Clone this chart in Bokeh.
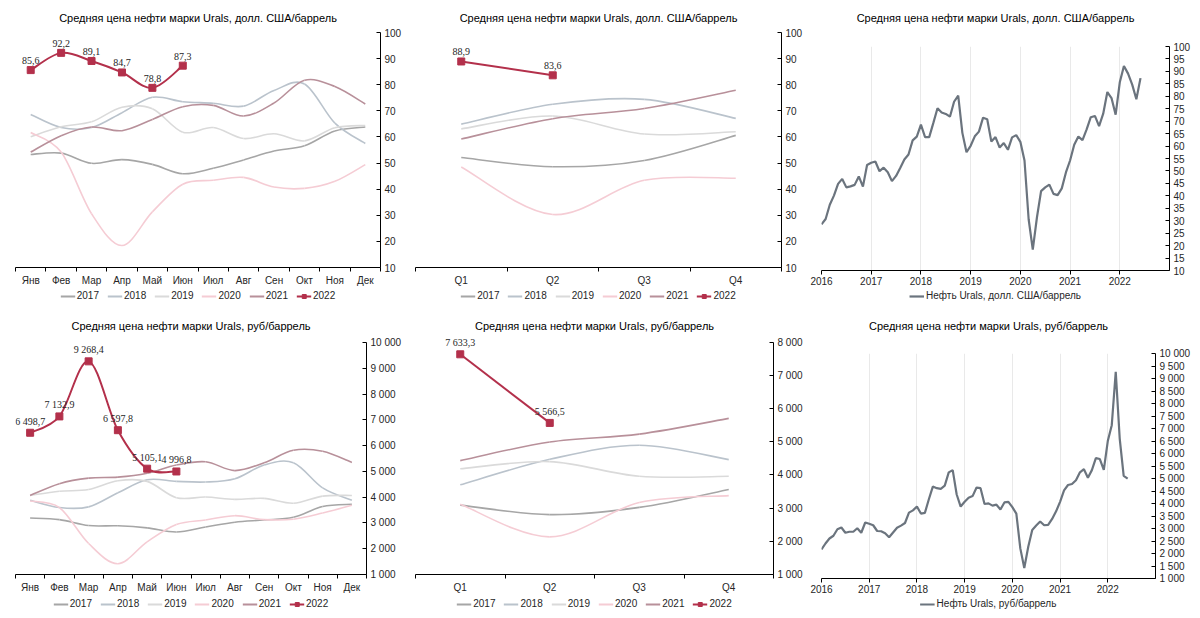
from bokeh.plotting import figure
from bokeh.layouts import column, row
from bokeh.models import (Range1d, FixedTicker, Legend, LegendItem, ColumnDataSource,
                          LabelSet, Label)
from bokeh.embed import file_html
from bokeh.resources import INLINE

FONT = "Liberation Sans"

MONTHS = ["Янв", "Фев", "Мар", "Апр", "Май", "Июн", "Июл", "Авг", "Сен", "Окт", "Ноя", "Дек"]
QUARTERS = ["Q1", "Q2", "Q3", "Q4"]
YEARS = ["2017", "2018", "2019", "2020", "2021", "2022"]

# USD/barrel, monthly
usd_2016 = [28.5, 30.7, 36.4, 40.1, 44.8, 46.8, 43.4, 43.8, 44.4, 47.8, 43.7, 52.4]
usd_2017 = [53.3, 53.8, 49.9, 51.3, 49.5, 45.9, 48.0, 51.2, 54.6, 56.6, 62.3, 63.8]
usd_2018 = [68.6, 63.6, 63.6, 69.3, 75.2, 73.5, 72.9, 71.8, 77.8, 80.3, 65.3, 57.5]
usd_2019 = [60.1, 63.9, 65.8, 71.4, 70.8, 61.8, 63.6, 59.4, 61.2, 58.5, 63.5, 64.4]
usd_2020 = [61.7, 54.2, 30.6, 18.4, 31.3, 41.9, 43.4, 44.5, 40.8, 40.3, 43.0, 49.4]
usd_2021 = [54.2, 60.5, 63.8, 62.4, 66.7, 71.6, 72.1, 68.0, 73.0, 81.7, 79.3, 72.6]
usd_2022 = [85.6, 92.2, 89.1, 84.7, 78.8, 87.3]

# USD/barrel, quarterly
usd_q_2017 = [52.1, 48.6, 51.0, 60.6]
usd_q_2018 = [64.9, 72.5, 74.4, 67.1]
usd_q_2019 = [63.1, 68.0, 61.1, 62.0]
usd_q_2020 = [48.5, 30.3, 43.4, 44.2]
usd_q_2021 = [59.2, 67.0, 70.9, 77.9]
usd_q_2022 = [88.9, 83.6]

# RUB/barrel, monthly
rub_2016 = [2160, 2400, 2600, 2710, 2970, 3040, 2830, 2870, 2870, 3010, 2830, 3240]
rub_2017 = [3190, 3130, 2900, 2890, 2810, 2650, 2840, 3030, 3115, 3220, 3635, 3725]
rub_2018 = [3877, 3598, 3624, 4169, 4676, 4613, 4587, 4714, 5246, 5335, 4359, 3877]
rub_2019 = [4067, 4232, 4296, 4638, 4613, 3979, 4004, 3915, 3953, 3763, 4042, 4067]
rub_2020 = [3852, 3598, 2204, 1418, 2268, 2940, 3116, 3282, 3130, 3142, 3383, 3687]
rub_2021 = [4067, 4524, 4739, 4778, 4930, 5246, 5373, 5031, 5335, 5817, 5779, 5348]
rub_2022 = [6498.7, 7132.9, 9268.4, 6597.8, 5105.1, 4996.8]

# RUB/barrel, quarterly
rub_q_2017 = [3090, 2805, 3021, 3563]
rub_q_2018 = [3701, 4470, 4894, 4460]
rub_q_2019 = [4184, 4401, 3958, 3958]
rub_q_2020 = [3120, 2134, 3169, 3376]
rub_q_2021 = [4431, 4993, 5230, 5703]
rub_q_2022 = [7633.3, 5566.5]

COLORS = {"2017": "#a6a6a6", "2018": "#bac3cc", "2019": "#dadada", "2020": "#f5ccd4",
          "2021": "#b8909a", "2022": "#b3304b"}
TS_COLOR = "#6b747e"
TXT = "#262626"

TITLE_USD = "Средняя цена нефти марки Urals, долл. США/баррель"
TITLE_RUB = "Средняя цена нефти марки Urals, руб/баррель"
LEG_USD = "Нефть Urals, долл. США/баррель"
LEG_RUB = "Нефть Urals, руб/баррель"

NAN = float("nan")


def fmt_num(v, dec=1):
    s = f"{v:,.{dec}f}"
    return s.replace(",", " ").replace(".", ",")


def bez_source(xs, ys):
    n = len(xs)
    d = dict(x0=[], y0=[], x1=[], y1=[], cx0=[], cy0=[], cx1=[], cy1=[])
    for i in range(n - 1):
        a = max(i - 1, 0)
        b = min(i + 2, n - 1)
        d["x0"].append(xs[i]); d["y0"].append(ys[i])
        d["x1"].append(xs[i + 1]); d["y1"].append(ys[i + 1])
        d["cx0"].append(xs[i] + (xs[i + 1] - xs[a]) / 6.0)
        d["cy0"].append(ys[i] + (ys[i + 1] - ys[a]) / 6.0)
        d["cx1"].append(xs[i + 1] - (xs[b] - xs[i]) / 6.0)
        d["cy1"].append(ys[i + 1] - (ys[b] - ys[i]) / 6.0)
    return ColumnDataSource(d)


def blank_fig(width, height):
    p = figure(width=width, height=height, x_range=Range1d(0, 1), y_range=Range1d(0, 1),
               x_axis_type=None, y_axis_type=None, toolbar_location=None,
               output_backend="svg", min_border=0)
    p.outline_line_color = None
    p.xgrid.grid_line_color = None
    p.ygrid.grid_line_color = None
    return p


def title_fig(width, height, text, cy):
    p = blank_fig(width, height)
    p.add_layout(Label(x=0.5, y=1 - cy / height, text=text, text_align="center",
                       text_baseline="middle", text_font=FONT, text_font_size="11px",
                       text_color="#000000"))
    return p


def legend_fig(width, height, spec, margin):
    # legend-only renderers: one NaN point, so nothing is drawn on the (blank) frame
    p = blank_fig(width, height)
    items = []
    for label, color, marker in spec:
        rs = [p.line(x=[NAN], y=[NAN], line_color=color, line_width=2.2)]
        if marker:
            rs.append(p.scatter(x=[NAN], y=[NAN], marker="square", size=6, color=color))
        items.append(LegendItem(label=label, renderers=rs))
    p.add_layout(Legend(items=items, orientation="horizontal", location="top_center",
                        label_text_font=FONT, label_text_font_size="10px",
                        label_text_color=TXT, glyph_width=15, glyph_height=10,
                        label_height=10, label_standoff=2, spacing=8, padding=0,
                        margin=margin, border_line_color=None, background_fill_alpha=0))
    return p


def main_fig(width, height, xr, yr, left, top, bottom):
    p = figure(width=width, height=height, x_range=xr, y_range=yr,
               output_backend="svg", toolbar_location=None, y_axis_location="right",
               min_border_left=left, min_border_right=0, min_border_top=top,
               min_border_bottom=bottom)
    p.outline_line_color = None
    p.xgrid.grid_line_color = None
    p.ygrid.grid_line_color = None
    for ax in (p.xaxis[0], p.yaxis[0]):
        ax.axis_line_color = "#000000"
        ax.axis_line_width = 1
        ax.major_label_text_font = FONT
        ax.major_label_text_font_size = "10px"
        ax.major_label_text_color = TXT
        ax.major_tick_line_color = "#000000"
        ax.minor_tick_line_color = None
    p.yaxis[0].major_tick_in = 4
    p.yaxis[0].major_tick_out = 0
    p.yaxis[0].major_label_standoff = 4
    return p


def y_axis(p, ymin, ymax, ystep, thousands):
    ticks = list(range(ymin, ymax + 1, ystep))
    p.yaxis[0].ticker = FixedTicker(ticks=ticks)
    p.yaxis[0].bounds = (ymin, ymax)
    if thousands:
        p.yaxis[0].major_label_overrides = {t: fmt_num(t, 0) for t in ticks}


def seasonal(width, height, labels, series, last, ymin, ymax, ystep, ytop,
             left, top, bottom, thousands, smooth_last):
    n = len(labels)
    p = main_fig(width, height, Range1d(0, n), Range1d(ymin, ytop), left, top, bottom)
    y_axis(p, ymin, ymax, ystep, thousands)
    centers = [i + 0.5 for i in range(n)]
    ax = p.xaxis[0]
    ax.ticker = FixedTicker(ticks=centers, minor_ticks=list(range(n + 1)))
    ax.major_label_overrides = {c: lab for c, lab in zip(centers, labels)}
    ax.major_tick_in = 0
    ax.major_tick_out = 0
    ax.minor_tick_line_color = "#000000"
    ax.minor_tick_in = 0
    ax.minor_tick_out = 4
    ax.major_label_standoff = 3
    for yr, vals in zip(YEARS[:-1], series):
        p.bezier(x0="x0", y0="y0", x1="x1", y1="y1", cx0="cx0", cy0="cy0",
                 cx1="cx1", cy1="cy1", source=bez_source(centers, vals),
                 line_color=COLORS[yr], line_width=1.6)
    lx = centers[:len(last)]
    if smooth_last:
        p.bezier(x0="x0", y0="y0", x1="x1", y1="y1", cx0="cx0", cy0="cy0",
                 cx1="cx1", cy1="cy1", source=bez_source(lx, last),
                 line_color=COLORS["2022"], line_width=2)
    else:
        p.line(lx, last, line_color=COLORS["2022"], line_width=2)
    p.scatter(lx, last, marker="square", size=7, color=COLORS["2022"])
    src = ColumnDataSource(dict(x=lx, y=last, t=[fmt_num(v) for v in last]))
    p.add_layout(LabelSet(x="x", y="y", text="t", source=src, text_font=FONT,
                          text_font_size="10px", text_color=TXT, text_align="center",
                          text_baseline="bottom", y_offset=6))
    return p


def timeseries(width, height, values, ymin, ymax, ystep, left, top, bottom, thousands):
    p = main_fig(width, height, Range1d(2016, 2023), Range1d(ymin, ymax), left, top, bottom)
    y_axis(p, ymin, ymax, ystep, thousands)
    years = list(range(2016, 2023))
    ax = p.xaxis[0]
    ax.ticker = FixedTicker(ticks=years)
    ax.major_tick_in = 0
    ax.major_tick_out = 4
    ax.major_label_standoff = 2
    p.xgrid.grid_line_color = "#e9e9e9"
    p.xgrid.grid_line_width = 1
    xs = [2016 + i / 12.0 for i in range(len(values))]
    p.line(xs, values, line_color=TS_COLOR, line_width=2.2)
    return p


usd_month_series = [usd_2017, usd_2018, usd_2019, usd_2020, usd_2021]
usd_q_series = [usd_q_2017, usd_q_2018, usd_q_2019, usd_q_2020, usd_q_2021]
rub_month_series = [rub_2017, rub_2018, rub_2019, rub_2020, rub_2021]
rub_q_series = [rub_q_2017, rub_q_2018, rub_q_2019, rub_q_2020, rub_q_2021]

usd_all = usd_2016 + usd_2017 + usd_2018 + usd_2019 + usd_2020 + usd_2021 + usd_2022
rub_all = rub_2016 + rub_2017 + rub_2018 + rub_2019 + rub_2020 + rub_2021 + rub_2022

YEAR_SPEC = [(y, COLORS[y], y == "2022") for y in YEARS]

W1, W2, W3 = 404, 401, 388
L1, L2, L3 = 15, 11, 16

# top row: title 25 + main 263 + legend 21 = 309
p1 = seasonal(W1, 263, MONTHS, usd_month_series, usd_2022, 10, 100, 10, 100,
              L1, 7, 18, False, True)
p2 = seasonal(W2, 263, QUARTERS, usd_q_series, usd_q_2022, 10, 100, 10, 100,
              L2, 7, 18, False, False)
p3 = timeseries(W3, 263, usd_all, 10, 100, 5, L3, 21, 18, False)

# bottom row: title 24 + main 262 + legend 19 = 305
p4 = seasonal(W1, 262, MONTHS, rub_month_series, rub_2022, 1000, 10000, 1000, 10000,
              L1, 9, 17, True, True)
p5 = seasonal(W2, 262, QUARTERS, rub_q_series, rub_q_2022, 1000, 8000, 1000, 8200,
              L2, 2, 17, True, False)
p6 = timeseries(W3, 262, rub_all, 1000, 10000, 500, L3, 20, 17, True)

c1 = column(title_fig(W1, 25, TITLE_USD, 17), p1, legend_fig(W1, 21, YEAR_SPEC, 2))
c2 = column(title_fig(W2, 25, TITLE_USD, 17), p2, legend_fig(W2, 21, YEAR_SPEC, 2))
c3 = column(title_fig(W3, 25, TITLE_USD, 17), p3,
            legend_fig(W3, 21, [(LEG_USD, TS_COLOR, False)], 2))
c4 = column(title_fig(W1, 24, TITLE_RUB, 16), p4, legend_fig(W1, 19, YEAR_SPEC, 3))
c5 = column(title_fig(W2, 24, TITLE_RUB, 16), p5, legend_fig(W2, 19, YEAR_SPEC, 3))
c6 = column(title_fig(W3, 24, TITLE_RUB, 16), p6,
            legend_fig(W3, 19, [(LEG_RUB, TS_COLOR, False)], 3))

layout = column(row(c1, c2, c3), row(c4, c5, c6))

open("out.html", "w").write(file_html(layout, INLINE))
